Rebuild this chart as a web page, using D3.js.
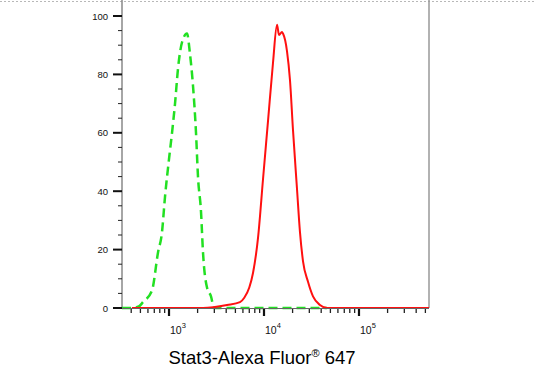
<!DOCTYPE html>
<html>
<head>
<meta charset="utf-8">
<script src="https://cdn.jsdelivr.net/npm/d3@7"></script>
<style>
  html, body { margin: 0; padding: 0; background: #fff; }
  svg { display: block; font-family: "Liberation Sans", Arial, sans-serif; }
</style>
</head>
<body>
<svg id="chart" width="536" height="375"></svg>
<script>
// Control (isotype, green dashed): fluorescence intensity and % of max
const controlX = [320, 400, 480, 532, 662, 766, 844, 907, 1000, 1076, 1157, 1244, 1371, 1546, 1663, 1790, 1924, 2019, 2172, 2280, 2512, 2767, 2977, 4000, 10000, 20000, 46000];
const controlY = [0, 0, 0.5, 2, 6, 19, 26, 38, 51, 60, 70, 82, 91, 94, 87, 76, 60, 45, 33, 19, 7, 4, 0, 0, 0, 0, 0];
// Stat3 stained (red solid)
const stat3X = [407, 1000, 2280, 4083, 5590, 6200, 7000, 7660, 8650, 9760, 11020, 12440, 13710, 14390, 15460, 15850, 17460, 18780, 20190, 22230, 23920, 25750, 29060, 32800, 38830, 46000, 100000, 545800];
const stat3Y = [0, 0, 0, 1, 2, 3.5, 7, 12, 24, 44, 64, 84, 97, 93.5, 94.5, 94, 88, 78, 61, 41, 26, 16, 9, 4, 1, 0, 0, 0];
const yTicks = [0, 20, 40, 60, 80, 100];
const xMajor = [3, 4, 5];
const xTitle = "Stat3-Alexa Fluor";

const svg = d3.select("#chart");
const L = 122, R = 429, T = 16, B = 308;
const x = d3.scaleLog().domain([320, 545800]).range([L, R]);
const y = d3.scaleLinear().domain([0, 100]).range([B, T]);

// top dotted frame
svg.append("line").attr("x1", 0).attr("x2", 536).attr("y1", 1.5).attr("y2", 1.5)
  .attr("stroke", "#b8b8b8").attr("stroke-width", 1.2).attr("stroke-dasharray", "2,2");

// right border
svg.append("line").attr("x1", R).attr("x2", R).attr("y1", 0).attr("y2", B)
  .attr("stroke", "#999").attr("stroke-width", 1.5);

// left axis line
svg.append("line").attr("x1", L).attr("x2", L).attr("y1", 0).attr("y2", B)
  .attr("stroke", "#888").attr("stroke-width", 1.5);

// y ticks
const yMinor = d3.range(0, 101, 5).filter(v => v % 20 !== 0);
svg.append("g").selectAll("line").data(yMinor).join("line")
  .attr("x1", L - 4).attr("x2", L).attr("y1", d => y(d)).attr("y2", d => y(d))
  .attr("stroke", "#222").attr("stroke-width", 1);
svg.append("g").selectAll("line").data(yTicks).join("line")
  .attr("x1", L - 9).attr("x2", L).attr("y1", d => y(d)).attr("y2", d => y(d))
  .attr("stroke", "#111").attr("stroke-width", 2);
svg.append("g").selectAll("text").data(yTicks).join("text")
  .attr("x", 108).attr("y", d => y(d) + 3.5).attr("text-anchor", "end")
  .attr("font-size", 9.5).attr("fill", "#111").text(d => d);

// curves
const line = d3.line().x(d => x(d[0])).y(d => y(d[1])).curve(d3.curveMonotoneX);
const controlData = controlX.map((v, i) => [v, controlY[i]]);
const stat3Data = stat3X.map((v, i) => [v, stat3Y[i]]);

svg.append("path").datum(controlData).attr("d", line)
  .attr("fill", "none").attr("stroke", "#22e022").attr("stroke-width", 2.5)
  .attr("stroke-dasharray", "9,5");
svg.append("path").datum(stat3Data).attr("d", line)
  .attr("fill", "none").attr("stroke", "#ff1010").attr("stroke-width", 2);

// bottom axis line
svg.append("line").attr("x1", L).attr("x2", R).attr("y1", B + 0.5).attr("y2", B + 0.5)
  .attr("stroke", "#666").attr("stroke-width", 1);

// x ticks (log)
const allTicks = x.ticks();
const minorTicks = allTicks.filter(v => Math.abs(Math.log10(v) - Math.round(Math.log10(v))) > 1e-6);
svg.append("g").selectAll("line").data(minorTicks).join("line")
  .attr("x1", d => x(d)).attr("x2", d => x(d)).attr("y1", B + 1).attr("y2", B + 5)
  .attr("stroke", "#222").attr("stroke-width", 1.3);
svg.append("g").selectAll("line").data(xMajor).join("line")
  .attr("x1", d => x(Math.pow(10, d))).attr("x2", d => x(Math.pow(10, d)))
  .attr("y1", B + 1).attr("y2", B + 8)
  .attr("stroke", "#111").attr("stroke-width", 2.2);
const xl = svg.append("g").selectAll("text").data(xMajor).join("text")
  .attr("x", d => x(Math.pow(10, d)) + 1).attr("y", 334)
  .attr("font-size", 10.5).attr("fill", "#111");
xl.append("tspan").text("10");
xl.append("tspan").attr("dy", -6).attr("font-size", 7.5).text(d => d);

// x title
const t = svg.append("text").attr("x", 262).attr("y", 364).attr("text-anchor", "middle")
  .attr("font-size", 18.5).attr("fill", "#000");
t.append("tspan").text(xTitle);
t.append("tspan").attr("dy", -7).attr("font-size", 11).text("®");
t.append("tspan").attr("dy", 7).text(" 647");
</script>
</body>
</html>
